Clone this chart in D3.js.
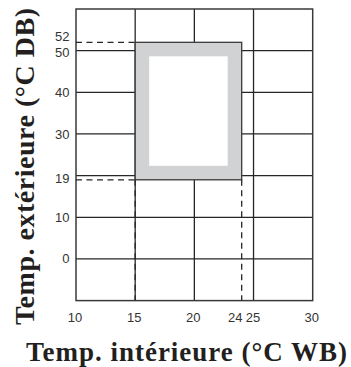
<!DOCTYPE html>
<html>
<head>
<meta charset="utf-8">
<script src="https://cdn.jsdelivr.net/npm/d3@7"></script>
<style>
  html, body { margin: 0; padding: 0; background: #fff; }
  svg { display: block; }
</style>
</head>
<body>
<svg id="chart" width="351" height="367"></svg>
<script>
// Operating range: indoor wet-bulb vs outdoor dry-bulb temperature
const xTicks = [10, 15, 20, 24, 25, 30];
const yTicks = [0, 10, 19, 30, 40, 50, 52];
const xGrid = [15, 20, 25];
const yGrid = [0, 10, 20, 30, 40, 50];
const xDomain = [10, 30];
const yDomain = [-10, 60];
// operating zone corners: [indoor WB min, max], [outdoor DB min, max]
const zoneIndoor = [15, 24];
const zoneOutdoor = [19, 52];

const xTitle = "Temp. intérieure (°C WB)";
const yTitle = "Temp. extérieure (°C DB)";

const svg = d3.select("#chart");
const plotL = 76, plotR = 312.7, plotT = 9, plotB = 300.6;

const x = d3.scaleLinear().domain(xDomain).range([plotL, plotR]);
const y = d3.scaleLinear().domain(yDomain).range([plotB, plotT]);

const ink = "#262626";

// grid
const grid = svg.append("g").attr("stroke", ink).attr("stroke-width", 1.3);
grid.selectAll("line.h").data(yGrid).join("line")
  .attr("class", "h")
  .attr("x1", plotL).attr("x2", plotR)
  .attr("y1", d => y(d)).attr("y2", d => y(d));
grid.selectAll("line.v").data(xGrid).join("line")
  .attr("class", "v")
  .attr("y1", plotT).attr("y2", plotB)
  .attr("x1", d => x(d)).attr("x2", d => x(d));

// frame
svg.append("rect")
  .attr("x", plotL).attr("y", plotT)
  .attr("width", plotR - plotL).attr("height", plotB - plotT)
  .attr("fill", "none").attr("stroke", "#3a3a3a").attr("stroke-width", 1.5);

// operating zone
const zx0 = x(zoneIndoor[0]), zx1 = x(zoneIndoor[1]);
const zy0 = y(zoneOutdoor[1]), zy1 = y(zoneOutdoor[0]);
svg.append("rect")
  .attr("x", zx0).attr("y", zy0)
  .attr("width", zx1 - zx0).attr("height", zy1 - zy0)
  .attr("fill", "#d1d2d4").attr("stroke", "#3a3a3a").attr("stroke-width", 1.3);
const inset = 14;
svg.append("rect")
  .attr("x", zx0 + inset).attr("y", zy0 + inset)
  .attr("width", zx1 - zx0 - 2 * inset).attr("height", zy1 - zy0 - 2 * inset)
  .attr("fill", "#fff");

// reference dashes to the axes
const dashes = [
  { x1: xDomain[0], y1: zoneOutdoor[1], x2: zoneIndoor[0], y2: zoneOutdoor[1] },
  { x1: xDomain[0], y1: zoneOutdoor[0], x2: zoneIndoor[0], y2: zoneOutdoor[0] },
  { x1: zoneIndoor[0], y1: zoneOutdoor[0], x2: zoneIndoor[0], y2: yDomain[0] },
  { x1: zoneIndoor[1], y1: zoneOutdoor[0], x2: zoneIndoor[1], y2: yDomain[0] }
];
svg.append("g")
  .attr("stroke", ink).attr("stroke-width", 1.3).attr("stroke-dasharray", "6,4.5")
  .selectAll("line").data(dashes).join("line")
  .attr("x1", d => x(d.x1)).attr("y1", d => y(d.y1))
  .attr("x2", d => x(d.x2)).attr("y2", d => y(d.y2));

// tick labels
const tickFont = "'Liberation Sans', Arial, sans-serif";
const xNudge = { 24: -5.5, 25: 0.5 };
svg.append("g").selectAll("text").data(xTicks).join("text")
  .attr("x", d => x(d) + (xNudge[d] || 0) - 1)
  .attr("y", 321.5)
  .attr("text-anchor", "middle")
  .attr("font-family", tickFont).attr("font-size", 13).attr("fill", "#333")
  .text(d => d);

const yNudge = { 52: -5.5, 50: 1.5, 19: -1.5 };
svg.append("g").selectAll("text").data(yTicks).join("text")
  .attr("x", 69.5)
  .attr("y", d => y(d) + (yNudge[d] || 0))
  .attr("dy", "0.35em")
  .attr("text-anchor", "end")
  .attr("font-family", tickFont).attr("font-size", 13).attr("fill", "#333")
  .text(d => d);

// axis titles
const titleFont = "'Liberation Serif', 'Times New Roman', serif";
svg.append("text")
  .attr("x", 26).attr("y", 361)
  .attr("textLength", 321).attr("lengthAdjust", "spacing")
  .attr("font-family", titleFont).attr("font-weight", "bold").attr("font-size", 27)
  .attr("fill", "#231f20")
  .text(xTitle);

svg.append("text")
  .attr("transform", "translate(33.5,325) rotate(-90)")
  .attr("textLength", 317).attr("lengthAdjust", "spacing")
  .attr("font-family", titleFont).attr("font-weight", "bold").attr("font-size", 28)
  .attr("fill", "#231f20")
  .text(yTitle);
</script>
</body>
</html>
